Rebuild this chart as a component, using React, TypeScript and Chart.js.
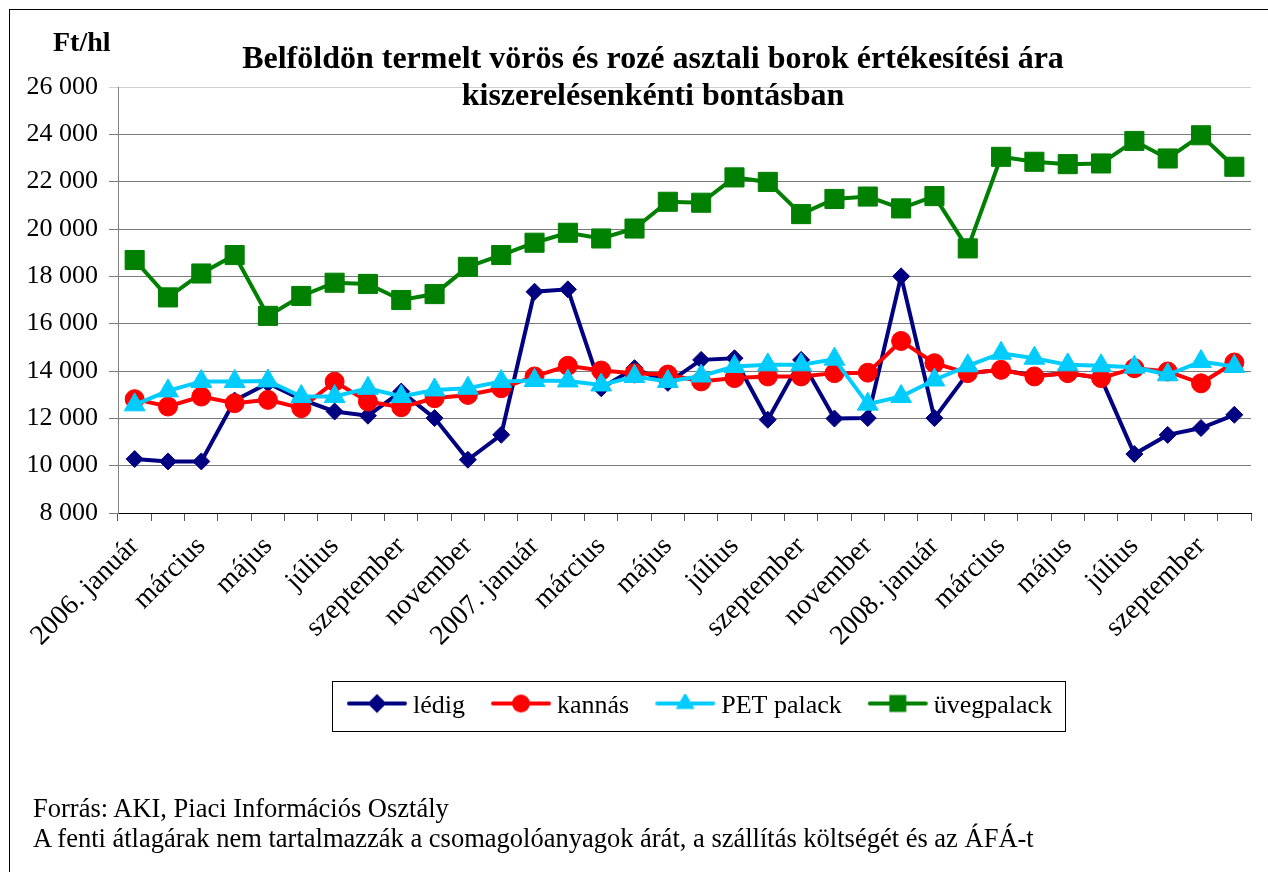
import { useEffect, useRef } from 'react';
import { Chart, registerables } from 'chart.js';

Chart.register(...registerables);

const categories = [
  '2006. január', 'február', 'március', 'április', 'május', 'június',
  'július', 'augusztus', 'szeptember', 'október', 'november', 'december',
  '2007. január', 'február', 'március', 'április', 'május', 'június',
  'július', 'augusztus', 'szeptember', 'október', 'november', 'december',
  '2008. január', 'február', 'március', 'április', 'május', 'június',
  'július', 'augusztus', 'szeptember', 'október',
];

const ledig = [
  10280, 10180, 10180, 12750, 13480, 12800, 12290, 12110, 13130, 12010, 10250, 11305,
  17350, 17450, 13270, 14120, 13500, 14470, 14540, 11940, 14470, 11990, 12010, 18000,
  12010, 13900, 14050, 13800, 13900, 13700, 10490, 11300, 11590, 12150,
];

const kannas = [
  12810, 12500, 12920, 12640, 12780, 12430, 13550, 12710, 12470, 12850, 12990, 13270,
  13770, 14220, 14020, 13900, 13850, 13560, 13700, 13770, 13770, 13910, 13930, 15270,
  14330, 13910, 14050, 13770, 13910, 13700, 14120, 13980, 13480, 14360,
];

const petPalack = [
  12570, 13160, 13560, 13560, 13580, 12920, 12920, 13270, 12920, 13200, 13270, 13560,
  13600, 13580, 13410, 13770, 13560, 13790, 14190, 14260, 14260, 14500, 12600, 12920,
  13620, 14220, 14750, 14540, 14260, 14220, 14160, 13840, 14400, 14190,
];

const uvegpalack = [
  18690, 17110, 18120, 18900, 16330, 17170, 17730, 17680, 17000, 17250, 18400, 18900,
  19420, 19840, 19600, 20020, 21150, 21110, 22180, 21990, 20630, 21270, 21370, 20870,
  21390, 19180, 23050, 22840, 22740, 22770, 23720, 22980, 23960, 22630,
];

const seriesNames = ['lédig', 'kannás', 'PET palack', 'üvegpalack'];
const seriesColors = ['#000080', '#FF0000', '#00CCFF', '#008000'];

const Y_MIN = 8000;
const Y_MAX = 26000;
const Y_STEP = 2000;

const titleLines = [
  'Belföldön termelt vörös és rozé asztali borok értékesítési ára',
  'kiszerelésenkénti bontásban',
];
const yAxisTitle = 'Ft/hl';
const footnotes = [
  'Forrás: AKI, Piaci Információs Osztály',
  'A fenti átlagárak nem tartalmazzák a csomagolóanyagok árát, a szállítás költségét és az ÁFÁ-t',
];

const FONT = "'Liberation Serif', 'Times New Roman', serif";
const LEGEND_START = 354;

function makeIcon(color: string, kind: string): HTMLCanvasElement {
  const c = document.createElement('canvas');
  c.width = 62;
  c.height = 26;
  const ctx = c.getContext('2d')!;
  const cy = 10;
  const cx = 31;
  ctx.strokeStyle = color;
  ctx.lineWidth = 4;
  ctx.lineCap = 'round';
  ctx.beginPath();
  ctx.moveTo(3, cy);
  ctx.lineTo(59, cy);
  ctx.stroke();
  ctx.fillStyle = color;
  ctx.beginPath();
  if (kind === 'diamond') {
    const r = 9.5;
    ctx.moveTo(cx - r, cy);
    ctx.lineTo(cx, cy - r);
    ctx.lineTo(cx + r, cy);
    ctx.lineTo(cx, cy + r);
    ctx.closePath();
  } else if (kind === 'circle') {
    ctx.arc(cx, cy, 9, 0, Math.PI * 2);
  } else if (kind === 'triangle') {
    ctx.moveTo(cx, cy - 11);
    ctx.lineTo(cx + 9.5, cy + 5.5);
    ctx.lineTo(cx - 9.5, cy + 5.5);
    ctx.closePath();
  } else {
    ctx.rect(cx - 8.5, cy - 8.5, 17, 17);
  }
  ctx.fill();
  return c;
}

function fmt(v: number): string {
  return String(v).replace(/\B(?=(\d{3})+(?!\d))/g, ' ');
}

export default function App() {
  const canvasRef = useRef<HTMLCanvasElement | null>(null);

  useEffect(() => {
    const canvas = canvasRef.current;
    if (!canvas) return;
    const icons = [
      makeIcon(seriesColors[0], 'diamond'),
      makeIcon(seriesColors[1], 'circle'),
      makeIcon(seriesColors[2], 'triangle'),
      makeIcon(seriesColors[3], 'square'),
    ];

    const legendFrame = {
      id: 'legendFrame',
      afterLayout(chart: any) {
        const lg = chart.legend;
        if (!lg || !lg.lineWidths) return;
        const pad = lg.options.labels.padding;
        const startX = (lg.left + pad + lg.right - lg.lineWidths[0]) / 2;
        const dx = LEGEND_START - startX;
        lg.left += dx;
        lg.right += dx;
      },
      afterDraw(chart: any) {
        const lg = chart.legend;
        if (!lg || !lg.legendHitBoxes || !lg.legendHitBoxes.length) return;
        const hb = lg.legendHitBoxes;
        const l = Math.min(...hb.map((h: any) => h.left));
        const r = Math.max(...hb.map((h: any) => h.left + h.width));
        const cy = hb[0].top + hb[0].height / 2;
        const ctx = chart.ctx;
        ctx.save();
        ctx.strokeStyle = '#000';
        ctx.lineWidth = 1;
        const x0 = Math.round(l - 22) + 0.5;
        const y0 = Math.round(cy - 26) + 0.5;
        const w = Math.round(r + 13 - (l - 22));
        ctx.strokeRect(x0, y0, w, 50);
        ctx.restore();
      },
    };

    const mk = (i: number, data: number[], style: string, radius: number, order: number) => ({
      label: seriesNames[i],
      data,
      borderColor: seriesColors[i],
      backgroundColor: seriesColors[i],
      pointBackgroundColor: seriesColors[i],
      pointBorderColor: seriesColors[i],
      borderWidth: 4,
      pointStyle: style,
      pointRadius: radius,
      pointBorderWidth: 1,
      tension: 0,
      order,
    });

    const chart = new Chart(canvas, {
      type: 'line',
      data: {
        labels: categories,
        datasets: [
          mk(0, ledig, 'rectRot', 8.5, 4),
          mk(1, kannas, 'circle', 9.5, 3),
          mk(2, petPalack, 'triangle', 12, 2),
          mk(3, uvegpalack, 'rect', 13.5, 1),
        ] as any,
      },
      options: {
        responsive: false,
        animation: false,
        devicePixelRatio: 1,
        layout: { padding: { top: 87, left: 0, right: 17, bottom: 142.5 } },
        plugins: {
          title: { display: false },
          tooltip: { enabled: false },
          legend: {
            display: true,
            position: 'bottom',
            labels: {
              usePointStyle: true,
              pointStyleWidth: 46,
              padding: 33,
              color: '#000',
              font: { family: FONT, size: 26 },
              sort: (a: any, b: any) => a.datasetIndex - b.datasetIndex,
              generateLabels: (ch: any) => {
                const items = (Chart.defaults.plugins.legend.labels as any).generateLabels(ch);
                return items.map((it: any) => ({ ...it, pointStyle: icons[it.datasetIndex] }));
              },
            },
          },
        },
        scales: {
          x: {
            type: 'category',
            offset: true,
            afterFit: (scale: any) => {
              scale.height = 147.5;
            },
            grid: {
              display: true,
              drawOnChartArea: false,
              drawTicks: true,
              tickLength: 8,
              offset: true,
              color: '#555',
            },
            border: { display: true, color: '#000', width: 1 },
            ticks: {
              autoSkip: false,
              maxRotation: 45,
              minRotation: 45,
              padding: 9,
              color: '#000',
              font: { family: FONT, size: 28 },
              callback: (_v: any, index: number) => (index % 2 === 0 ? categories[index] : ''),
            },
          },
          y: {
            min: Y_MIN,
            max: Y_MAX,
            afterFit: (scale: any) => {
              scale.width = 118;
            },
            grid: {
              color: (ctx: any) => (ctx.tick && ctx.tick.value === Y_MAX ? '#d0d0d0' : '#7a7a7a'),
              tickLength: 9,
              drawTicks: true,
            },
            border: { display: true, color: '#808080', width: 1 },
            ticks: {
              stepSize: Y_STEP,
              padding: 11,
              color: '#000',
              font: { family: FONT, size: 26 },
              callback: (v: any) => fmt(Number(v)),
            },
          },
        },
      },
      plugins: [legendFrame],
    } as any);

    return () => {
      chart.destroy();
    };
  }, []);

  return (
    <div
      style={{
        position: 'absolute',
        left: 0,
        top: 0,
        width: 1268,
        height: 872,
        overflow: 'hidden',
        background: '#fff',
      }}
    >
      <div
        style={{
          position: 'absolute',
          left: 9,
          top: 9,
          width: 1400,
          height: 1000,
          borderLeft: '1px solid #000',
          borderTop: '1px solid #000',
        }}
      />
      <canvas
        ref={canvasRef}
        width={1268}
        height={872}
        style={{ position: 'absolute', left: 0, top: 0, width: 1268, height: 872 }}
      />
      <div
        style={{
          position: 'absolute',
          left: 653,
          top: 38.7,
          transform: 'translateX(-50%)',
          whiteSpace: 'nowrap',
          textAlign: 'center',
          fontFamily: FONT,
          fontWeight: 'bold',
          fontSize: 32,
          lineHeight: '37px',
          color: '#000',
        }}
      >
        {titleLines.map((t) => (
          <div key={t}>{t}</div>
        ))}
      </div>
      <div
        style={{
          position: 'absolute',
          left: 53,
          top: 28.3,
          whiteSpace: 'nowrap',
          fontFamily: FONT,
          fontWeight: 'bold',
          fontSize: 28,
          lineHeight: '28px',
          color: '#000',
        }}
      >
        {yAxisTitle}
      </div>
      <div
        style={{
          position: 'absolute',
          left: 33,
          top: 793.2,
          whiteSpace: 'nowrap',
          fontFamily: FONT,
          fontSize: 26.5,
          lineHeight: '30px',
          color: '#000',
        }}
      >
        {footnotes.map((t) => (
          <div key={t}>{t}</div>
        ))}
      </div>
    </div>
  );
}
